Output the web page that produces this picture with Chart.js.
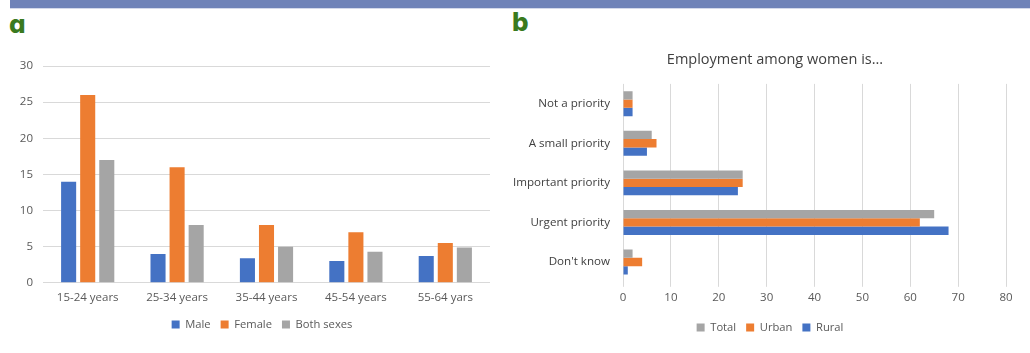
<!DOCTYPE html>
<html>
<head>
<meta charset="utf-8">
<script src="https://cdn.jsdelivr.net/npm/chart.js@4.4.1/dist/chart.umd.min.js"></script>
<style>
  html, body { margin: 0; padding: 0; background: #ffffff; }
  body { width: 1030px; height: 353px; position: relative; overflow: hidden; }
  #band { position: absolute; left: 10px; top: 0; width: 1020px; height: 8px; background: #6f83b8; border-bottom: 1px solid #d3d9ea; }
  .tag { position: absolute; font-family: Inter, "Open Sans", sans-serif; font-weight: 800; font-size: 26px; line-height: 26px; color: #3a7a1e; font-feature-settings: "cv11" 1; }
  #tagA { left: 9px; top: 11px; }
  #tagB { left: 512px; top: 9px; }
  .panel { position: absolute; top: 40px; height: 313px; }
  #panelA { left: 0; width: 520px; }
  #panelB { left: 500px; width: 530px; }
  canvas { display: block; }
</style>
</head>
<body>
<div id="band"></div>
<div class="tag" id="tagA">a</div>
<div class="tag" id="tagB">b</div>
<div class="panel" id="panelA"><canvas id="ageChart" width="520" height="313"></canvas></div>
<div class="panel" id="panelB"><canvas id="priorityChart" width="530" height="313"></canvas></div>

<script>
// Panel a: share by age group and sex
const ageGroups = ['15-24 years', '25-34 years', '35-44 years', '45-54 years', '55-64 yars'];
const maleValues = [14, 4, 3.4, 3, 3.7];
const femaleValues = [26, 16, 8, 7, 5.5];
const bothSexesValues = [17, 8, 5, 4.3, 4.9];
const ageAxisTicks = [0, 5, 10, 15, 20, 25, 30];

// Panel b: how employment among women is ranked
const priorityTitle = 'Employment among women is...';
const priorityLevels = ['Not a priority', 'A small priority', 'Important priority', 'Urgent priority', "Don't know"];
const totalValues = [2, 6, 25, 65, 2];
const urbanValues = [2, 7, 25, 62, 4];
const ruralValues = [2, 5, 24, 68, 1];
const priorityAxisTicks = [0, 10, 20, 30, 40, 50, 60, 70, 80];

const BLUE = '#4472c4';
const ORANGE = '#ed7d31';
const GREY = '#a5a5a5';
const TEXT = '#595959';
const GRID = '#d9d9d9';
const FONT = "'Open Sans', sans-serif";

Chart.defaults.font.family = FONT;
Chart.defaults.color = TEXT;
Chart.defaults.animation = false;

// Nudges the legend / title blocks sideways once the layout is settled,
// so they sit centred under the whole panel rather than the canvas box.
const blockOffset = {
  id: 'blockOffset',
  afterLayout(chart, args, opts) {
    const lx = opts.legend || 0;
    const tx = opts.title || 0;
    if (chart.legend && lx) { chart.legend.left += lx; chart.legend.right += lx; }
    if (chart.titleBlock && tx) { chart.titleBlock.left += tx; chart.titleBlock.right += tx; }
  }
};

new Chart(document.getElementById('ageChart'), {
  type: 'bar',
  data: {
    labels: ageGroups,
    datasets: [
      { label: 'Male', data: maleValues, backgroundColor: BLUE },
      { label: 'Female', data: femaleValues, backgroundColor: ORANGE },
      { label: 'Both sexes', data: bothSexesValues, backgroundColor: GREY }
    ]
  },
  plugins: [blockOffset],
  options: {
    responsive: false,
    devicePixelRatio: 1,
    datasets: { bar: { categoryPercentage: 0.64, barPercentage: 0.79 } },
    layout: { padding: { top: 26, right: 30, bottom: 13, left: 0 } },
    plugins: {
      tooltip: { enabled: false },
      blockOffset: { legend: 17 },
      legend: {
        position: 'bottom',
        labels: { boxWidth: 8, boxHeight: 8, padding: 10, font: { size: 11.2 }, color: TEXT }
      }
    },
    scales: {
      x: {
        grid: { display: false, drawTicks: false },
        border: { display: false },
        ticks: { font: { size: 11.5 }, color: TEXT, padding: 8, maxRotation: 0 },
        afterFit: (s) => { s.height = 26; }
      },
      y: {
        min: 0,
        max: 30,
        afterBuildTicks: (s) => { s.ticks = ageAxisTicks.map(v => ({ value: v })); },
        grid: { color: GRID, lineWidth: 1, drawTicks: false },
        border: { display: false },
        ticks: { font: { size: 11.5 }, color: TEXT, padding: 10 },
        afterFit: (s) => { s.width = 43; }
      }
    }
  }
});

new Chart(document.getElementById('priorityChart'), {
  type: 'bar',
  data: {
    labels: priorityLevels,
    datasets: [
      { label: 'Total', data: totalValues, backgroundColor: GREY },
      { label: 'Urban', data: urbanValues, backgroundColor: ORANGE },
      { label: 'Rural', data: ruralValues, backgroundColor: BLUE }
    ]
  },
  plugins: [blockOffset],
  options: {
    indexAxis: 'y',
    responsive: false,
    devicePixelRatio: 1,
    datasets: { bar: { categoryPercentage: 0.63, barPercentage: 1.0 } },
    layout: { padding: { top: 0, right: 24, bottom: 10, left: 0 } },
    plugins: {
      tooltip: { enabled: false },
      blockOffset: { legend: 17, title: 22 },
      title: {
        display: true,
        text: priorityTitle,
        color: '#404040',
        font: { size: 14.5, weight: 'normal' },
        padding: { top: 11, bottom: 15.5 }
      },
      legend: {
        position: 'bottom',
        labels: { boxWidth: 8, boxHeight: 8, padding: 10, font: { size: 11.2 }, color: TEXT }
      }
    },
    scales: {
      x: {
        min: 0,
        max: 80,
        afterBuildTicks: (s) => { s.ticks = priorityAxisTicks.map(v => ({ value: v })); },
        grid: { color: GRID, lineWidth: 1, drawTicks: true, tickLength: 5 },
        border: { display: false },
        ticks: { font: { size: 11.5 }, color: TEXT, padding: 4 },
        afterFit: (s) => { s.height = 30; }
      },
      y: {
        grid: { display: false, drawTicks: false },
        border: { display: false },
        ticks: { font: { size: 11.6 }, color: '#404040', padding: 13 },
        afterFit: (s) => { s.width = 123; }
      }
    }
  }
});
</script>
</body>
</html>
